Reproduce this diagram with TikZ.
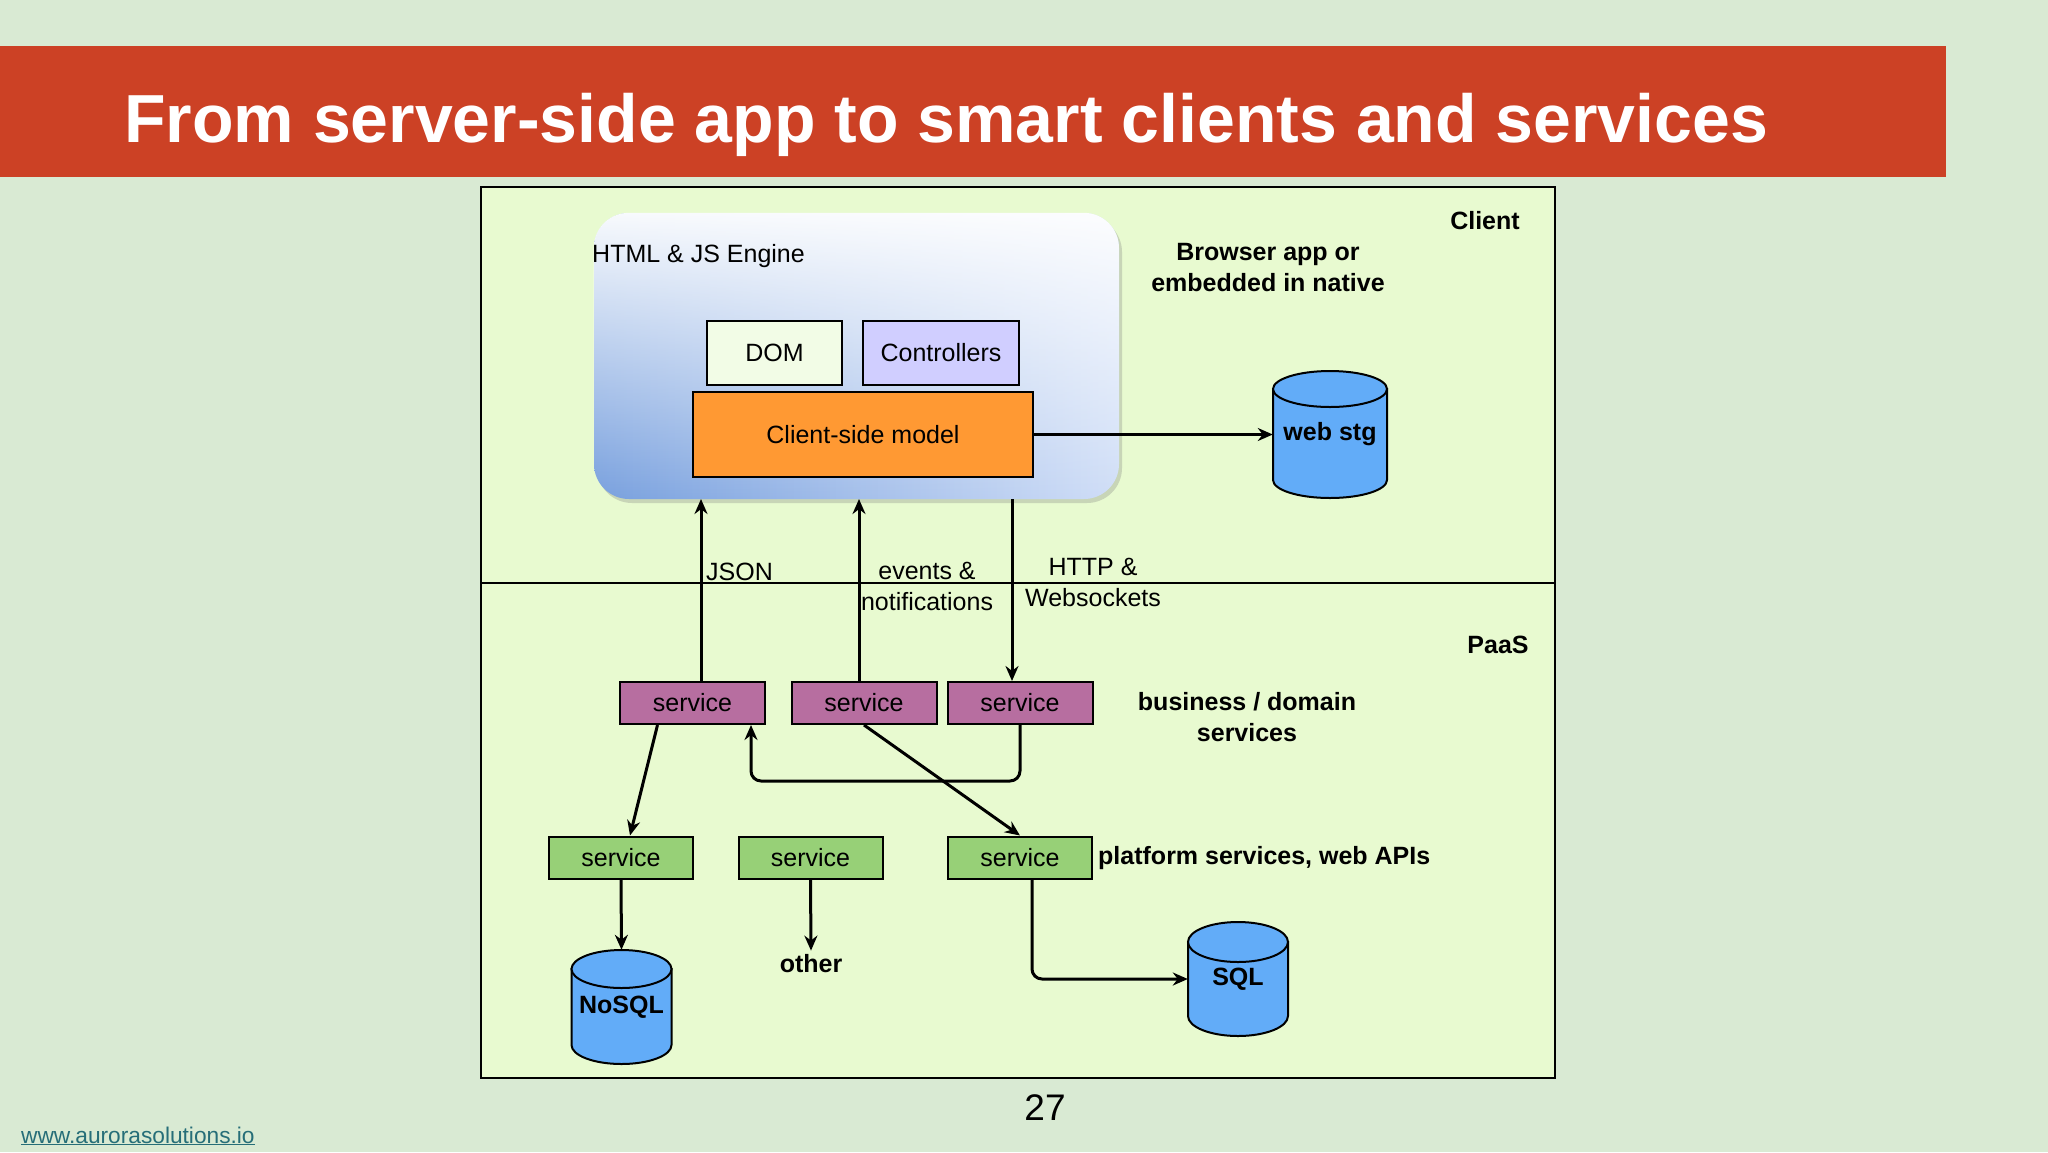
\documentclass[tikz,border=0pt]{standalone}
\usepackage{fontspec}
\setmainfont{Liberation Sans}
\usepackage{tikz}
\usetikzlibrary{arrows.meta,fadings,shadows}

\definecolor{slidebg}{RGB}{217,234,211}
\definecolor{titlered}{RGB}{204,65,37}
\definecolor{diagbg}{RGB}{232,250,208}
\definecolor{bizpurple}{RGB}{183,110,160}
\definecolor{platgreen}{RGB}{151,208,119}
\definecolor{dbblue}{RGB}{98,172,248}
\definecolor{modelorange}{RGB}{255,153,51}
\definecolor{domfill}{RGB}{242,252,230}
\definecolor{ctrlfill}{RGB}{208,206,255}
\definecolor{enginedark}{RGB}{120,160,222}
\definecolor{enginelight}{RGB}{208,222,247}
\definecolor{linkteal}{RGB}{38,110,120}

\tikzfading[name=fadedown, top color=transparent!5, middle color=transparent!75, bottom color=transparent!100]

% database cylinder: centre x, top y, bottom y, x radius, y radius
\newcommand{\dbcyl}[5]{%
  \draw[line width=2pt,fill=dbblue] (#1-#4,#2+#5) -- (#1-#4,#3-#5)
    arc[start angle=180,end angle=0,x radius=#4,y radius=#5] -- (#1+#4,#2+#5) -- cycle;
  \draw[line width=2pt,fill=dbblue] (#1,#2+#5) ellipse[x radius=#4,y radius=#5];
}

\begin{document}
\begin{tikzpicture}
[x=1pt,y=-1pt,>={Stealth[length=15pt,width=13pt]},
txt/.style={font=\fontsize{25}{31}\selectfont,inner sep=0pt},
btxt/.style={font=\fontsize{25}{31}\selectfont\bfseries,inner sep=0pt},
box/.style={draw,line width=2pt,inner sep=0pt,font=\fontsize{25}{31}\selectfont},
bizsvc/.style={box,fill=bizpurple,minimum width=145pt,minimum height=42pt},
platsvc/.style={box,fill=platgreen,minimum width=144pt,minimum height=42pt},
dblbl/.style={btxt,minimum width=100pt},
engine/.style={rounded corners=35pt,left color=enginedark,right color=enginelight,
  minimum width=525pt,minimum height=286pt,
  drop shadow={opacity=0.3,shadow xshift=3pt,shadow yshift=-4pt}},
wire/.style={line width=3pt},]

% slide
\fill[slidebg] (0,0) rectangle (2048,1152);
\useasboundingbox (0,0) rectangle (2048,1152);
\fill[titlered] (0,46) rectangle (1946,177);
\node (title) at (124,142)[anchor=base west,text=white,inner sep=0pt,
  font=\fontsize{68}{80}\selectfont\bfseries]{From server-side app to smart clients and services};

% diagram frame
\draw[line width=1.5pt,fill=diagbg] (481,187) rectangle (1555,1078);
\draw[line width=1.5pt] (481,583) -- (1555,583);
\node (client) at (1485,221)[btxt]{Client};
\node (paas) at (1498,645)[btxt]{PaaS};
\node (browser) at (1268,268)[btxt,align=center]{Browser app or\\embedded in native};

% client side
\node (engine) at (856.5,356)[engine]{};
\fill[white,path fading=fadedown,rounded corners=35pt] (engine.north west) rectangle (engine.south east);
\node (enginelbl) at (592,256)[txt,anchor=west]{HTML \& JS Engine};
\node (dom) at (774.5,353)[box,fill=domfill,minimum width=135pt,minimum height=64pt]{DOM};
\node (ctrl) at (941,353)[box,fill=ctrlfill,minimum width=156pt,minimum height=64pt]{Controllers};
\node (model) at (863,434.5)[box,fill=modelorange,minimum width=340pt,minimum height=85pt]{Client-side model};

\dbcyl{1330}{371}{498}{57}{18}
\node (webstg) at (1330,434.5)[dblbl,minimum width=114pt,minimum height=127pt]{web stg};
\draw[wire,->] (model.east) -- (webstg.west);

% business / domain services
\node (s1) at (692.5,703)[bizsvc]{service};
\node (s2) at (864,703)[bizsvc]{service};
\node (s3) at (1020,703)[bizsvc]{service};
\node (bizlbl) at (1247,717)[btxt,align=center]{business / domain\\services};

\coordinate (jsonin) at (701,499);
\coordinate (eventsin) at (859,499);
\coordinate (httpout) at (1012,499);
\draw[wire,->] (jsonin |- s1.north) -- (jsonin);
\draw[wire,->] (eventsin |- s2.north) -- (eventsin);
\draw[wire,->] (httpout) -- (httpout |- s3.north);
\node (json) at (706,572)[txt,anchor=west]{JSON};
\node (events) at (927,586)[txt,align=center]{events \&\\notifications};
\node (http) at (1093,582)[txt,align=center]{HTTP \&\\Websockets};

% platform services
\node (g1) at (621,857.5)[platsvc]{service};
\node (g2) at (810.5,857.5)[platsvc]{service};
\node (g3) at (1020,857.5)[platsvc]{service};
\node (platlbl) at (1098,858)[btxt,anchor=west]{platform services, web APIs};

\coordinate (loopL) at (751,781);
\draw[wire,->] ([xshift=-35pt]s1.south) -- ([xshift=9pt]g1.north);
\draw[wire,->] (s2.south) -- (g3.north);
\draw[wire,->,rounded corners=10pt] (s3.south) |- (loopL) -- (loopL |- s1.south);

% storage
\dbcyl{621.5}{950}{1064}{50}{19}
\node (nosql) at (621.5,1007)[dblbl,minimum height=114pt]{NoSQL};
\dbcyl{1238}{922}{1036}{50}{20}
\node (sql) at (1238,979)[dblbl,minimum height=114pt]{SQL};
\node (other) at (811,964)[btxt,inner sep=4pt]{other};

\draw[wire,->] (g1.south) -- (nosql.north);
\draw[wire,->] (g2.south) -- (other.north);
\draw[wire,->,rounded corners=10pt] ([xshift=12pt]g3.south) |- (sql.west);

% footer
\node (page) at (1045,1108)[inner sep=0pt,font=\fontsize{37}{40}\selectfont]{27};
\node (link) at (21,1143)[anchor=base west,inner sep=0pt,text=linkteal,
  font=\fontsize{22.7}{26}\selectfont]{\underline{www.aurorasolutions.io}};

\end{tikzpicture}
\end{document}
